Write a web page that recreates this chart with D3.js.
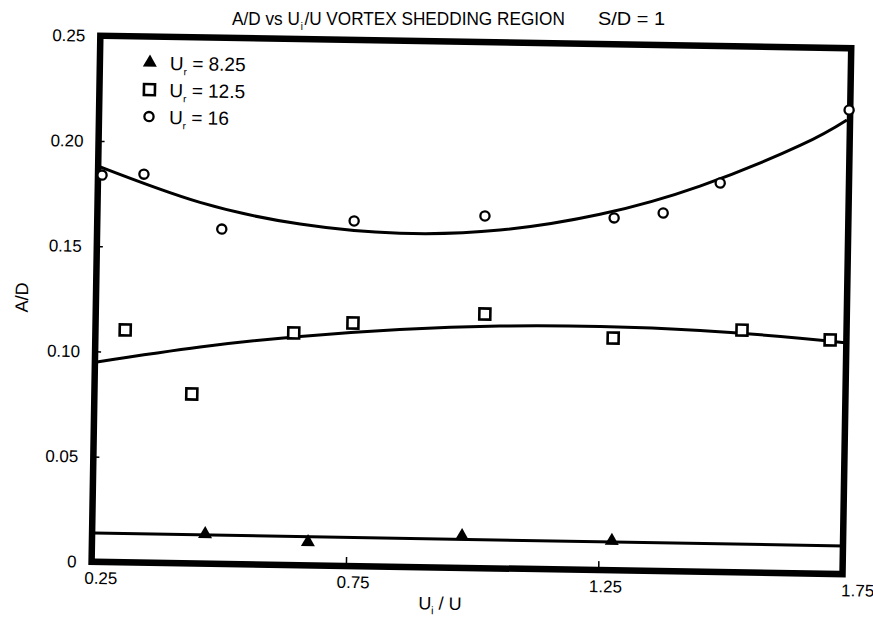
<!DOCTYPE html>
<html><head><meta charset="utf-8">
<script src="https://cdn.jsdelivr.net/npm/d3@7"></script>
<style>
body{margin:0;background:#fff;}
text{font-family:"Liberation Sans",Arial,sans-serif;fill:#000;}
</style></head>
<body><svg id="c" width="873" height="627"></svg>
<script>
// ---- data ----
const xTicks = [0.25, 0.75, 1.25, 1.75];
const yTicks = [0, 0.05, 0.10, 0.15, 0.20, 0.25];

const seriesNames = ["8.25", "12.5", "16"];

// Ur = 8.25 (filled triangles)
const triX = [0.470, 0.674, 0.979, 1.276];
const triY = [0.0136, 0.0106, 0.0146, 0.0135];
// Ur = 12.5 (open squares)
const sqX = [0.305, 0.439, 0.639, 0.756, 1.017, 1.272, 1.527, 1.702];
const sqY = [0.1104, 0.0805, 0.1103, 0.1155, 0.1208, 0.1104, 0.1152, 0.1112];
// Ur = 16 (open circles)
const ciX = [0.254, 0.337, 0.493, 0.755, 1.014, 1.270, 1.367, 1.479, 1.732];
const ciY = [0.1838, 0.1846, 0.1591, 0.1640, 0.1674, 0.1675, 0.1702, 0.1849, 0.2206];

// fitted curves
const fitHighX = [0.25, 0.449, 0.648, 0.846, 1.044, 1.242, 1.439, 1.636, 1.728];
const fitHighY = [0.1877, 0.1716, 0.1621, 0.1585, 0.1608, 0.1691, 0.1833, 0.2034, 0.2159];
const fitMidX = [0.25, 0.454, 0.652, 0.849, 1.047, 1.246, 1.444, 1.642, 1.736];
const fitMidY = [0.0950, 0.1029, 0.1087, 0.1128, 0.1152, 0.1158, 0.1147, 0.1118, 0.1099];
const fitLowX = [0.25, 1.736];
const fitLowY = [0.0137, 0.0134];

// ---- drawing ----
const svg = d3.select("#c");
// the scanned original is tilted slightly clockwise
const g = svg.append("g").attr("transform", "rotate(0.95,473,300)");
const FL = 96, FR = 847, FT = 42, FB = 568;   // frame
const x = d3.scaleLinear().domain([0.25, 1.75]).range([98, 855]);
const y = d3.scaleLinear().domain([0, 0.25]).range([FB, FT]);

// title (not tilted): pieces laid out in sequence, then squeezed horizontally
const tg = svg.append("g");
const pieces = [
  {t: "A/D vs U", fs: 18, dy: 0, gap: 1},
  {t: "i", fs: 10, dy: 5, gap: 1.5},
  {t: "/U VORTEX SHEDDING REGION", fs: 18, dy: 0, gap: 0}
];
let cx = 0;
pieces.forEach(p => {
  const el = tg.append("text").attr("x", cx).attr("y", p.dy).attr("font-size", p.fs).text(p.t);
  cx += el.node().getComputedTextLength() + p.gap;
});
tg.attr("transform", `translate(232,25) scale(${333 / cx},1)`);
svg.append("text").attr("x", 598).attr("y", 25).attr("font-size", 18)
  .attr("textLength", 67).attr("lengthAdjust", "spacingAndGlyphs").text("S/D = 1");

// axes
const fmt = d => d === 0 ? "0" : d3.format(".2f")(d);
const yAxis = g.append("g").attr("transform", `translate(${FL},0)`)
  .call(d3.axisLeft(y).tickValues(yTicks).tickSize(-6).tickPadding(15).tickFormat(fmt));
yAxis.select(".domain").remove();
yAxis.selectAll("line").attr("stroke", "#000").attr("stroke-width", 1.5);
yAxis.selectAll("text").attr("font-size", 17);

const xAxis = g.append("g").attr("transform", `translate(0,${FB})`)
  .call(d3.axisBottom(x).tickValues(xTicks).tickSize(-9).tickPadding(10).tickFormat(d3.format(".2f")));
xAxis.select(".domain").remove();
xAxis.selectAll(".tick").filter(d => d === 0.25 || d === 1.75).select("line").remove();
xAxis.selectAll("line").attr("stroke", "#000").attr("stroke-width", 1.5);
xAxis.selectAll("text").attr("font-size", 17).attr("dx", 7);

// frame
g.append("rect").attr("x", FL).attr("y", FT).attr("width", FR - FL).attr("height", FB - FT)
  .attr("fill", "none").attr("stroke", "#000").attr("stroke-width", 6.5);

// axis titles
g.append("text").attr("transform", `translate(28,${(FT + FB) / 2}) rotate(-90)`)
  .attr("text-anchor", "middle").attr("font-size", 18).text("A/D");
const xl = g.append("text").attr("x", 445).attr("y", 610).attr("text-anchor", "middle").attr("font-size", 18);
xl.append("tspan").text("U");
xl.append("tspan").attr("font-size", 11).attr("dy", 5).text("i");
xl.append("tspan").attr("dy", -5).text(" / U");

// fit curves
const line = d3.line().x(d => x(d[0])).y(d => y(d[1])).curve(d3.curveNatural);
const fits = [d3.zip(fitHighX, fitHighY), d3.zip(fitMidX, fitMidY), d3.zip(fitLowX, fitLowY)];
g.selectAll("path.fit").data(fits).join("path").attr("class", "fit")
  .attr("d", line).attr("fill", "none").attr("stroke", "#000").attr("stroke-width", 3);

// markers
const triSym = d3.symbol().type(d3.symbolTriangle).size(85);
g.selectAll("path.tri").data(d3.zip(triX, triY)).join("path").attr("class", "tri")
  .attr("transform", d => `translate(${x(d[0])},${y(d[1]) - 1})`).attr("d", triSym).attr("fill", "#000");
g.selectAll("rect.sq").data(d3.zip(sqX, sqY)).join("rect").attr("class", "sq")
  .attr("x", d => x(d[0]) - 5.5).attr("y", d => y(d[1]) - 5.5).attr("width", 11).attr("height", 11)
  .attr("fill", "#fff").attr("stroke", "#000").attr("stroke-width", 2.6);
g.selectAll("circle.ci").data(d3.zip(ciX, ciY)).join("circle").attr("class", "ci")
  .attr("cx", d => x(d[0])).attr("cy", d => y(d[1])).attr("r", 4.6)
  .attr("fill", "#fff").attr("stroke", "#000").attr("stroke-width", 2.3);

// legend
const lg = g.append("g");
const ly = [68, 95, 122], lx = 146;
lg.append("path").attr("transform", `translate(${lx},${ly[0]})`).attr("d", triSym).attr("fill", "#000");
lg.append("rect").attr("x", lx - 5.5).attr("y", ly[1] - 5.5).attr("width", 11).attr("height", 11)
  .attr("fill", "#fff").attr("stroke", "#000").attr("stroke-width", 2.6);
lg.append("circle").attr("cx", lx).attr("cy", ly[2]).attr("r", 4.6)
  .attr("fill", "#fff").attr("stroke", "#000").attr("stroke-width", 2.3);
seriesNames.forEach((n, i) => {
  const t = lg.append("text").attr("x", lx + 20).attr("y", ly[i] + 7).attr("font-size", 19);
  t.append("tspan").text("U");
  t.append("tspan").attr("font-size", 10).attr("dy", 5).text("r");
  t.append("tspan").attr("dy", -5).text(" = " + n);
});
</script></body></html>
